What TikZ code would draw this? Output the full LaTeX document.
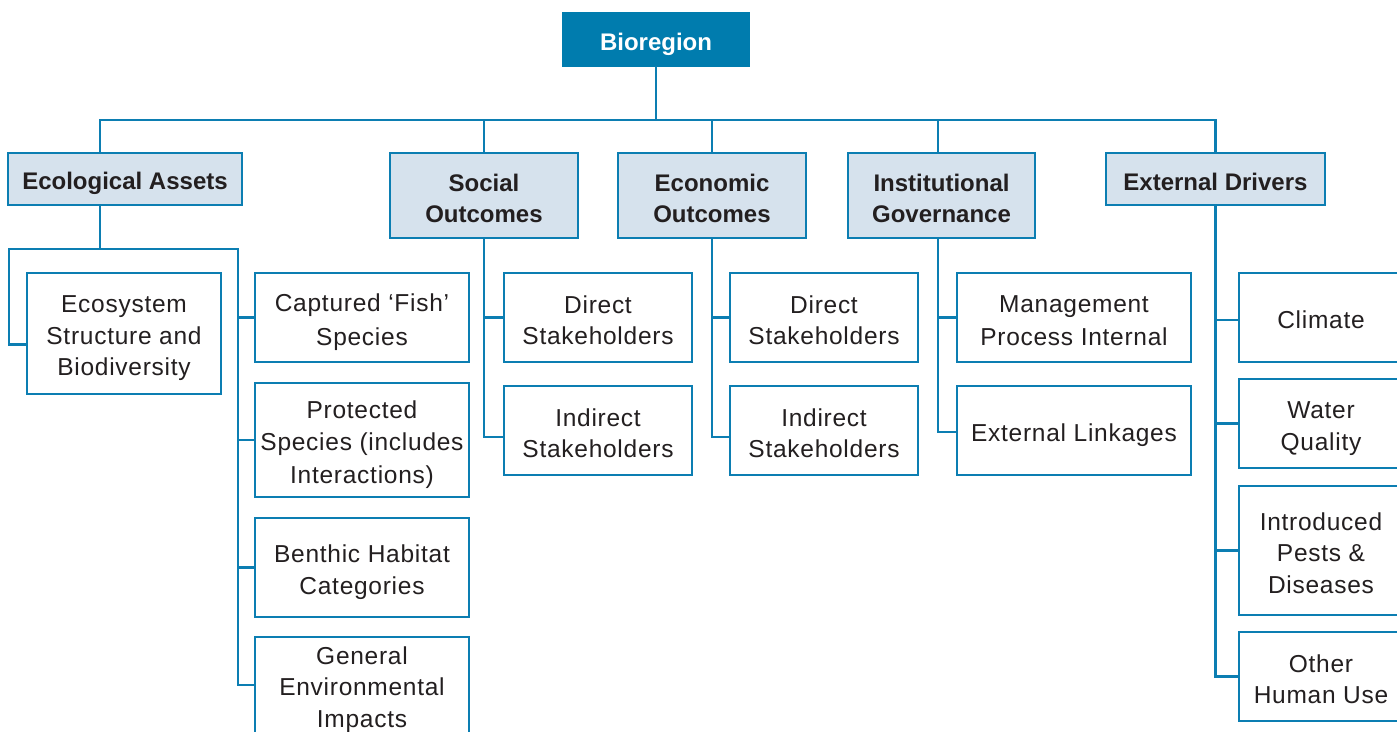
\documentclass[tikz,border=0pt]{standalone}
\usepackage{fontspec}
\setmainfont{Liberation Sans}[LetterSpace=3,BoldFeatures={LetterSpace=0}]
\definecolor{lineblue}{RGB}{12,126,178}
\definecolor{darkblue}{RGB}{0,124,174}
\definecolor{lightfill}{RGB}{214,226,237}
\definecolor{textgray}{RGB}{35,31,32}
\newcommand{\ls}{\rule[-4.5pt]{0pt}{31.5pt}}
\begin{document}
\begin{tikzpicture}[x=1pt,y=-1pt,
  txt/.style={align=center,text=textgray,font=\fontsize{24.5}{31.5}\selectfont},
  box/.style={txt,draw=lineblue,line width=2pt,fill=white,inner sep=0pt,outer sep=0pt},
  head/.style={box,fill=lightfill,font=\fontsize{24}{31.5}\selectfont\bfseries},
  root/.style={box,draw=darkblue,fill=darkblue,text=white,font=\fontsize{24}{31.5}\selectfont\bfseries},
  lbl/.style={txt,inner sep=0pt},
  conn/.style={draw=lineblue,line width=2.6pt}]
\useasboundingbox (0,0) rectangle (1397,731);
% root
\node[root,minimum width=186pt,minimum height=53pt] (bio) at (656,39.5) {\ls Bioregion\ls};
% headings
\node[head,minimum width=234pt,minimum height=52pt] (eco) at (125,179) {\ls Ecological Assets\ls};
\node[head,minimum width=188pt,minimum height=85pt] (soc) at (484,195.5) {\ls Social\\Outcomes\ls};
\node[head,minimum width=188pt,minimum height=85pt] (econ) at (712,195.5) {\ls Economic\\Outcomes\ls};
\node[head,minimum width=187pt,minimum height=85pt] (inst) at (941.5,195.5) {\ls Institutional\\Governance\ls};
\node[head,minimum width=219pt,minimum height=52pt] (ext) at (1215.5,179) {\ls External Drivers\ls};
% ecological children
\node[box,minimum width=194pt,minimum height=121pt] (ecosys) at (124,333.5) {\ls Ecosystem\\Structure and\\Biodiversity\ls};
\node[box,minimum width=214pt,minimum height=89pt] (fish) at (362,317.5) {\ls Captured ‘Fish’\\Species\ls};
\node[box,minimum width=214pt,minimum height=114pt] (prot) at (362,440) {\ls Protected\\Species (includes\\Interactions)\ls};
\node[box,minimum width=214pt,minimum height=99pt] (benth) at (362,567.5) {\ls Benthic Habitat\\Categories\ls};
\node[box,minimum width=214pt,minimum height=94pt] (gen) at (362,685) {\ls General\\Environmental\\Impacts\ls};
% social children
\node[box,minimum width=188pt,minimum height=89pt] (sdir) at (598,317.5) {\ls Direct\\Stakeholders\ls};
\node[box,minimum width=188pt,minimum height=89pt] (sind) at (598,430.5) {\ls Indirect\\Stakeholders\ls};
% economic children
\node[box,minimum width=188pt,minimum height=89pt] (edir) at (824,317.5) {\ls Direct\\Stakeholders\ls};
\node[box,minimum width=188pt,minimum height=89pt] (eind) at (824,430.5) {\ls Indirect\\Stakeholders\ls};
% institutional children
\node[box,minimum width=234pt,minimum height=89pt] (mgmt) at (1074,317.5) {\ls Management\\Process Internal\ls};
\node[box,minimum width=234pt,minimum height=89pt] (link) at (1074,430.5) {\ls External Linkages\ls};
% external children (extend beyond right edge)
\node[box,minimum width=190pt,minimum height=89pt] (clim) at (1334,317.5) {};
\node[box,minimum width=190pt,minimum height=89pt] (water) at (1334,423.5) {};
\node[box,minimum width=190pt,minimum height=129pt] (pest) at (1334,550.5) {};
\node[box,minimum width=190pt,minimum height=89pt] (other) at (1334,676.5) {};
\node[lbl] (climt) at (1321,317.5) {\ls Climate\ls};
\node[lbl] (watert) at (1321,423.5) {\ls Water\\Quality\ls};
\node[lbl] (pestt) at (1321,550.5) {\ls Introduced\\Pests \&\\Diseases\ls};
\node[lbl] (othert) at (1321,676.5) {\ls Other\\Human Use\ls};
% bus coordinates
\coordinate (bus) at (0,120);
\coordinate (ecov) at (100,179);
\coordinate (ecobus) at (0,249);
\coordinate (ecoL) at (9,249);
\coordinate (ecoR) at (238,249);
\coordinate (instv) at ([xshift=-3.5pt]inst.south);
% top level connectors
\draw[conn] (bio.south) -- (bio.south |- bus);
\draw[conn] (ecov |- eco.north) -- (ecov |- bus) -- (ext.north |- bus) -- (ext.north);
\draw[conn] (soc.north) -- (soc.north |- bus);
\draw[conn] (econ.north) -- (econ.north |- bus);
\draw[conn] (instv |- inst.north) -- (instv |- bus);
% ecological
\draw[conn] (ecov |- eco.south) -- (ecov |- ecobus);
\draw[conn] ([yshift=-11pt]ecosys.west) -| (ecoL) -- (ecoR) |- (gen.west);
\draw[conn] (fish.west) -- (fish.west -| ecoR);
\draw[conn] (prot.west) -- (prot.west -| ecoR);
\draw[conn] (benth.west) -- (benth.west -| ecoR);
% social
\draw[conn] (soc.south) |- ([yshift=-6.5pt]sind.west);
\draw[conn] (sdir.west) -- (sdir.west -| soc.south);
% economic
\draw[conn] (econ.south) |- ([yshift=-6.5pt]eind.west);
\draw[conn] (edir.west) -- (edir.west -| econ.south);
% institutional
\draw[conn] (instv) |- ([yshift=-1.5pt]link.west);
\draw[conn] (mgmt.west) -- (mgmt.west -| instv);
% external
\draw[conn] (ext.south) |- (other.west);
\draw[conn] ([yshift=-2.5pt]clim.west) -- ([yshift=-2.5pt]clim.west -| ext.south);
\draw[conn] (water.west) -- (water.west -| ext.south);
\draw[conn] (pest.west) -- (pest.west -| ext.south);
\end{tikzpicture}
\end{document}
